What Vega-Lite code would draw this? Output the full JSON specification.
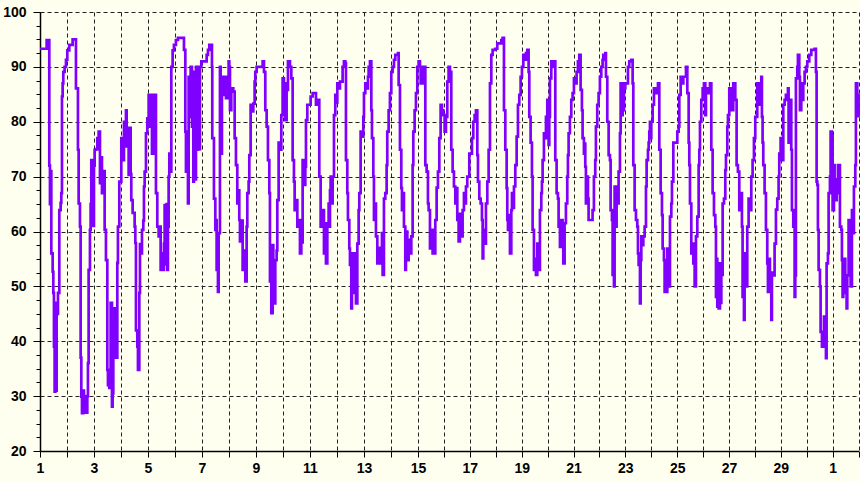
{
"$schema": "https://vega.github.io/schema/vega-lite/v6.json",
"width": 820, "height": 439,
"autosize": "none",
"padding": {"left": 40, "top": 12, "right": 0, "bottom": 31},
"background": "#FFFFF0",
"config": {"view": {"stroke": null}},
"data": {"values": [
{"d":0,"v":93.3},{"d":0.246,"v":94.9},{"d":0.344,"v":72},{"d":0.369,"v":65},{"d":0.394,"v":71},{"d":0.419,"v":56},{"d":0.468,"v":52.7},{"d":0.493,"v":48.8},{"d":0.517,"v":39},{"d":0.542,"v":30.8},{"d":0.567,"v":47},{"d":0.592,"v":31},{"d":0.616,"v":46},{"d":0.641,"v":45},{"d":0.666,"v":48.8},{"d":0.715,"v":63.9},{"d":0.764,"v":65.2},{"d":0.789,"v":67},{"d":0.814,"v":84.6},{"d":0.838,"v":87},{"d":0.863,"v":89.1},{"d":0.912,"v":90},{"d":0.962,"v":91.3},{"d":1.011,"v":93},{"d":1.085,"v":94},{"d":1.208,"v":95},{"d":1.332,"v":86.1},{"d":1.406,"v":74.9},{"d":1.431,"v":65.1},{"d":1.48,"v":60.9},{"d":1.505,"v":37},{"d":1.53,"v":29.9},{"d":1.555,"v":26.9},{"d":1.604,"v":31},{"d":1.628,"v":27},{"d":1.678,"v":30},{"d":1.703,"v":27},{"d":1.752,"v":30},{"d":1.776,"v":36},{"d":1.801,"v":53},{"d":1.85,"v":60.3},{"d":1.875,"v":65},{"d":1.9,"v":73},{"d":1.925,"v":62},{"d":1.949,"v":73},{"d":1.974,"v":61},{"d":1.999,"v":72},{"d":2.023,"v":74.9},{"d":2.073,"v":75},{"d":2.122,"v":77},{"d":2.172,"v":78.2},{"d":2.221,"v":68.8},{"d":2.246,"v":73.5},{"d":2.295,"v":67},{"d":2.32,"v":71},{"d":2.394,"v":60.3},{"d":2.443,"v":54.8},{"d":2.493,"v":34.8},{"d":2.517,"v":32},{"d":2.567,"v":31.5},{"d":2.616,"v":47},{"d":2.665,"v":28.1},{"d":2.69,"v":30.5},{"d":2.715,"v":40.2},{"d":2.764,"v":46},{"d":2.813,"v":37},{"d":2.863,"v":54.3},{"d":2.887,"v":60.9},{"d":2.937,"v":69.1},{"d":3.011,"v":77},{"d":3.06,"v":73},{"d":3.11,"v":80},{"d":3.134,"v":77.3},{"d":3.184,"v":82.1},{"d":3.209,"v":75.5},{"d":3.258,"v":78.9},{"d":3.283,"v":70.3},{"d":3.332,"v":78.9},{"d":3.357,"v":70.5},{"d":3.381,"v":65.7},{"d":3.431,"v":63.4},{"d":3.505,"v":60.9},{"d":3.53,"v":57.9},{"d":3.554,"v":42},{"d":3.604,"v":39},{"d":3.628,"v":34.8},{"d":3.678,"v":48.8},{"d":3.703,"v":57.7},{"d":3.727,"v":56},{"d":3.777,"v":60.3},{"d":3.826,"v":62},{"d":3.851,"v":68.2},{"d":3.876,"v":70.9},{"d":3.925,"v":77.9},{"d":3.974,"v":80.6},{"d":4.024,"v":84.9},{"d":4.073,"v":79.1},{"d":4.098,"v":84.9},{"d":4.147,"v":74.2},{"d":4.196,"v":82},{"d":4.246,"v":84.9},{"d":4.295,"v":67},{"d":4.344,"v":60.9},{"d":4.394,"v":59.1},{"d":4.443,"v":60.9},{"d":4.468,"v":53},{"d":4.517,"v":56},{"d":4.567,"v":53},{"d":4.591,"v":57.8},{"d":4.616,"v":64.8},{"d":4.665,"v":54},{"d":4.69,"v":65},{"d":4.715,"v":53},{"d":4.739,"v":60.9},{"d":4.764,"v":70},{"d":4.789,"v":74.2},{"d":4.838,"v":70.9},{"d":4.863,"v":90},{"d":4.912,"v":93},{"d":4.961,"v":94},{"d":5.035,"v":94.9},{"d":5.109,"v":95.3},
{"d":5.332,"v":93.1},{"d":5.382,"v":78.2},{"d":5.406,"v":70.9},{"d":5.431,"v":74.9},{"d":5.48,"v":65.1},{"d":5.505,"v":88.2},{"d":5.53,"v":80.9},{"d":5.579,"v":90},{"d":5.628,"v":79.1},{"d":5.678,"v":69.1},{"d":5.702,"v":89.1},{"d":5.752,"v":69.5},{"d":5.777,"v":90},{"d":5.826,"v":74.9},{"d":5.851,"v":90},{"d":5.9,"v":75},{"d":5.925,"v":90},{"d":5.974,"v":91},{"d":6.172,"v":92.2},{"d":6.221,"v":93.1},{"d":6.27,"v":94},{"d":6.369,"v":90},{"d":6.38,"v":77},{"d":6.443,"v":66},{"d":6.493,"v":60.3},{"d":6.517,"v":62.1},{"d":6.542,"v":53},{"d":6.591,"v":49},{"d":6.616,"v":59.7},{"d":6.665,"v":90},{"d":6.69,"v":74.2},{"d":6.739,"v":88.2},{"d":6.789,"v":87},{"d":6.813,"v":84.9},{"d":6.863,"v":88.2},{"d":6.888,"v":84.3},{"d":6.937,"v":86.5},{"d":6.986,"v":91},{"d":7.011,"v":90},{"d":7.036,"v":82.1},{"d":7.085,"v":86.1},{"d":7.159,"v":85.5},{"d":7.209,"v":77},{"d":7.258,"v":72.1},{"d":7.307,"v":65.1},{"d":7.332,"v":67.5},{"d":7.381,"v":62.1},{"d":7.406,"v":58.2},{"d":7.456,"v":62},{"d":7.505,"v":53},{"d":7.554,"v":56.5},{"d":7.604,"v":50.9},{"d":7.653,"v":60.9},{"d":7.678,"v":67},{"d":7.727,"v":69.1},{"d":7.752,"v":73.9},{"d":7.801,"v":83.1},{"d":7.851,"v":81.9},{"d":7.9,"v":83.3},{"d":7.949,"v":87.3},{"d":7.974,"v":89.1},{"d":8.023,"v":90},{"d":8.246,"v":91},{"d":8.295,"v":89.1},{"d":8.344,"v":82.1},{"d":8.394,"v":79.1},{"d":8.443,"v":73},{"d":8.493,"v":67},{"d":8.517,"v":50.9},{"d":8.542,"v":56},{"d":8.567,"v":45.1},{"d":8.616,"v":57.5},{"d":8.641,"v":48},{"d":8.69,"v":46.9},{"d":8.715,"v":54.8},{"d":8.764,"v":56.5},{"d":8.789,"v":65.7},{"d":8.838,"v":76.2},{"d":8.888,"v":74.9},{"d":8.937,"v":81.2},{"d":8.986,"v":87.9},{"d":9.036,"v":87},{"d":9.085,"v":80.3},{"d":9.134,"v":85.8},{"d":9.184,"v":91},{"d":9.258,"v":90},{"d":9.307,"v":87.9},{"d":9.357,"v":73},{"d":9.406,"v":69.1},{"d":9.431,"v":63.9},{"d":9.48,"v":65.7},{"d":9.53,"v":60.9},{"d":9.579,"v":62.1},{"d":9.628,"v":56},{"d":9.678,"v":58},{"d":9.727,"v":73},{"d":9.777,"v":68.5},{"d":9.826,"v":71.8},{"d":9.851,"v":80.3},{"d":9.9,"v":83.1},{"d":10.023,"v":84.6},{"d":10.098,"v":85.2},{"d":10.221,"v":83.1},{"d":10.295,"v":84},{"d":10.344,"v":70},{"d":10.394,"v":60.9},{"d":10.443,"v":62.5},{"d":10.468,"v":63.9},{"d":10.517,"v":56},{"d":10.567,"v":61.5},{"d":10.591,"v":54.2},{"d":10.641,"v":61},{"d":10.69,"v":65.1},
{"d":10.715,"v":60.9},{"d":10.74,"v":67.5},{"d":10.764,"v":70},{"d":10.814,"v":65.1},{"d":10.838,"v":70},{"d":10.888,"v":81.2},{"d":10.937,"v":84.9},{"d":10.986,"v":83.5},{"d":11.011,"v":87},{"d":11.06,"v":86.1},{"d":11.11,"v":87.3},{"d":11.208,"v":90},{"d":11.257,"v":91},{"d":11.307,"v":90.7},{"d":11.332,"v":73},{"d":11.381,"v":67},{"d":11.406,"v":62.1},{"d":11.455,"v":56.9},{"d":11.48,"v":53.9},{"d":11.529,"v":46},{"d":11.554,"v":56},{"d":11.604,"v":48.8},{"d":11.653,"v":56},{"d":11.702,"v":46.9},{"d":11.752,"v":57.8},{"d":11.801,"v":63.9},{"d":11.826,"v":67},{"d":11.875,"v":78.2},{"d":11.924,"v":77.3},{"d":11.974,"v":80.9},{"d":11.999,"v":85.2},{"d":12.048,"v":87},{"d":12.098,"v":86.1},{"d":12.147,"v":88.2},{"d":12.172,"v":90},{"d":12.221,"v":91},{"d":12.271,"v":82.1},{"d":12.295,"v":77},{"d":12.345,"v":70},{"d":12.369,"v":62.1},{"d":12.394,"v":65.1},{"d":12.443,"v":59.1},{"d":12.493,"v":54.2},{"d":12.542,"v":57},{"d":12.567,"v":54.2},{"d":12.616,"v":56},{"d":12.665,"v":59.7},{"d":12.69,"v":52.1},{"d":12.739,"v":66},{"d":12.788,"v":67},{"d":12.838,"v":72.1},{"d":12.862,"v":78.2},{"d":12.912,"v":82.1},{"d":12.961,"v":85.2},{"d":13.011,"v":89.1},{"d":13.06,"v":90},{"d":13.11,"v":91.3},{"d":13.159,"v":92.2},{"d":13.258,"v":92.5},{"d":13.283,"v":86.7},{"d":13.332,"v":74.9},{"d":13.381,"v":67.9},{"d":13.406,"v":63.9},{"d":13.431,"v":67},{"d":13.48,"v":60.9},{"d":13.529,"v":53},{"d":13.554,"v":60},{"d":13.604,"v":54.8},{"d":13.653,"v":58.5},{"d":13.702,"v":56},{"d":13.752,"v":59.1},{"d":13.801,"v":72.1},{"d":13.826,"v":78.2},{"d":13.875,"v":82.1},{"d":13.924,"v":85.2},{"d":13.974,"v":90},{"d":14.024,"v":91},{"d":14.076,"v":90},{"d":14.102,"v":87},{"d":14.153,"v":90},{"d":14.205,"v":87},{"d":14.256,"v":90},{"d":14.282,"v":72.1},{"d":14.333,"v":70.9},{"d":14.384,"v":65.1},{"d":14.41,"v":63.9},{"d":14.462,"v":56.9},{"d":14.513,"v":60.3},{"d":14.564,"v":56},{"d":14.616,"v":56},{"d":14.667,"v":62.1},{"d":14.719,"v":68},{"d":14.77,"v":70.9},{"d":14.822,"v":77},{"d":14.873,"v":83.1},{"d":14.924,"v":82.1},{"d":14.976,"v":81.2},{"d":15.027,"v":78.2},{"d":15.079,"v":80.9},{"d":15.13,"v":87.3},{"d":15.181,"v":90},{"d":15.233,"v":89.1},{"d":15.284,"v":74.9},{"d":15.336,"v":70.9},{"d":15.387,"v":68.2},{"d":15.439,"v":65.1},{"d":15.464,"v":67.9},{"d":15.516,"v":62.1},{"d":15.567,"v":58.2},{"d":15.619,"v":63.2},{"d":15.67,"v":59.1},{"d":15.721,"v":63.9},{"d":15.773,"v":67},{"d":15.824,"v":65.1},{"d":15.85,"v":68.2},{"d":15.901,"v":70},{"d":15.979,"v":74.2},{"d":16.082,"v":77},{"d":16.133,"v":80},{"d":16.185,"v":81.2},{"d":16.236,"v":82.1},{"d":16.288,"v":73.9},
{"d":16.314,"v":69.1},{"d":16.365,"v":66},{"d":16.417,"v":65.1},{"d":16.468,"v":62.1},{"d":16.494,"v":55.1},{"d":16.519,"v":60.3},{"d":16.571,"v":57.8},{"d":16.622,"v":65.1},{"d":16.674,"v":69.1},{"d":16.725,"v":74.9},{"d":16.777,"v":87},{"d":16.828,"v":92.2},{"d":16.879,"v":93.1},{"d":16.982,"v":93.3},{"d":17.059,"v":94.3},{"d":17.214,"v":94.9},{"d":17.265,"v":95.3},{"d":17.317,"v":82.1},{"d":17.368,"v":74.9},{"d":17.42,"v":67.9},{"d":17.445,"v":62.1},{"d":17.471,"v":60.3},{"d":17.497,"v":63},{"d":17.548,"v":56},{"d":17.6,"v":63.9},{"d":17.625,"v":67},{"d":17.677,"v":64.3},{"d":17.703,"v":68.2},{"d":17.754,"v":72.1},{"d":17.806,"v":77.3},{"d":17.857,"v":83.1},{"d":17.908,"v":84.9},{"d":17.96,"v":88.2},{"d":18.011,"v":90},{"d":18.063,"v":92.2},{"d":18.114,"v":91.3},{"d":18.165,"v":92.5},{"d":18.217,"v":93.1},{"d":18.268,"v":89.1},{"d":18.294,"v":80.9},{"d":18.345,"v":76.2},{"d":18.397,"v":70},{"d":18.422,"v":60.3},{"d":18.474,"v":53},{"d":18.525,"v":55},{"d":18.551,"v":52.1},{"d":18.602,"v":57.8},{"d":18.654,"v":53},{"d":18.705,"v":63.9},{"d":18.757,"v":67},{"d":18.782,"v":69.1},{"d":18.808,"v":73},{"d":18.859,"v":77.9},{"d":18.911,"v":77},{"d":18.937,"v":80.9},{"d":18.988,"v":84},{"d":19.014,"v":81.2},{"d":19.039,"v":75.8},{"d":19.065,"v":80.9},{"d":19.091,"v":87.9},{"d":19.142,"v":91},{"d":19.194,"v":90},{"d":19.245,"v":91},{"d":19.297,"v":73},{"d":19.348,"v":67},{"d":19.399,"v":66},{"d":19.425,"v":60.9},{"d":19.477,"v":57.2},{"d":19.528,"v":62.1},{"d":19.579,"v":59.1},{"d":19.605,"v":54.2},{"d":19.657,"v":61.5},{"d":19.708,"v":65.1},{"d":19.759,"v":70},{"d":19.785,"v":73.9},{"d":19.811,"v":77.9},{"d":19.862,"v":80.9},{"d":19.914,"v":84},{"d":19.965,"v":85.2},{"d":20.017,"v":87.9},{"d":20.068,"v":87},{"d":20.119,"v":89.1},{"d":20.171,"v":91},{"d":20.222,"v":92.2},{"d":20.274,"v":85.8},{"d":20.325,"v":82.1},{"d":20.351,"v":77},{"d":20.402,"v":74.2},{"d":20.428,"v":76},{"d":20.454,"v":71.8},{"d":20.479,"v":65.1},{"d":20.531,"v":70},{"d":20.557,"v":66},{"d":20.582,"v":62.1},{"d":20.736,"v":63.9},{"d":20.788,"v":70},{"d":20.839,"v":73},{"d":20.865,"v":79.1},{"d":20.916,"v":83.1},{"d":20.968,"v":85.2},{"d":21.019,"v":88.2},{"d":21.071,"v":90},{"d":21.122,"v":91.3},
{"d":21.149,"v":92.2},{"d":21.226,"v":92.5},{"d":21.252,"v":88.2},{"d":21.303,"v":80},{"d":21.355,"v":73.9},{"d":21.406,"v":73},{"d":21.432,"v":63.9},{"d":21.483,"v":62.1},{"d":21.509,"v":52.1},{"d":21.535,"v":62.1},{"d":21.56,"v":50},{"d":21.586,"v":68.2},{"d":21.638,"v":60.9},{"d":21.663,"v":66},{"d":21.715,"v":65.1},{"d":21.74,"v":70.9},{"d":21.792,"v":77.9},{"d":21.818,"v":87},{"d":21.843,"v":81.2},{"d":21.895,"v":87},{"d":21.92,"v":82.1},{"d":21.946,"v":86.1},{"d":21.998,"v":87},{"d":22.101,"v":90},{"d":22.152,"v":91},{"d":22.229,"v":91.3},{"d":22.281,"v":87},{"d":22.307,"v":72.1},{"d":22.358,"v":63.9},{"d":22.41,"v":62.1},{"d":22.461,"v":60.9},{"d":22.487,"v":56},{"d":22.513,"v":53.9},{"d":22.564,"v":46.9},{"d":22.59,"v":54.8},{"d":22.616,"v":59.1},{"d":22.641,"v":57.5},{"d":22.693,"v":59.1},{"d":22.744,"v":60.9},{"d":22.796,"v":68.2},{"d":22.821,"v":73},{"d":22.873,"v":74.9},{"d":22.899,"v":76.2},{"d":22.924,"v":78.2},{"d":22.95,"v":80},{"d":22.976,"v":77},{"d":23.001,"v":80},{"d":23.053,"v":83.1},{"d":23.104,"v":86.1},{"d":23.207,"v":85.2},{"d":23.259,"v":87},{"d":23.31,"v":74.9},{"d":23.362,"v":67},{"d":23.413,"v":63},{"d":23.439,"v":56.9},{"d":23.49,"v":54.8},{"d":23.516,"v":49},{"d":23.542,"v":54.2},{"d":23.568,"v":49},{"d":23.619,"v":56.9},{"d":23.671,"v":50},{"d":23.722,"v":62.7},{"d":23.774,"v":65.1},{"d":23.799,"v":69.1},{"d":23.851,"v":76.2},{"d":24.005,"v":78.2},{"d":24.057,"v":79.1},{"d":24.082,"v":84.9},{"d":24.134,"v":88.2},{"d":24.185,"v":87},{"d":24.237,"v":88.2},{"d":24.34,"v":90},{"d":24.391,"v":85.2},{"d":24.443,"v":76.2},{"d":24.468,"v":72.1},{"d":24.494,"v":65.1},{"d":24.545,"v":56},{"d":24.571,"v":57.2},{"d":24.622,"v":54.2},{"d":24.648,"v":57.8},{"d":24.674,"v":50},{"d":24.725,"v":59.1},{"d":24.777,"v":62.7},{"d":24.828,"v":72.1},{"d":24.854,"v":74.9},{"d":24.88,"v":80},{"d":24.931,"v":84},{"d":24.983,"v":86.1},{"d":25.034,"v":87},{"d":25.085,"v":81.2},{"d":25.111,"v":86.1},{"d":25.163,"v":85.2},{"d":25.214,"v":86.1},{"d":25.265,"v":87},{"d":25.317,"v":74.9},{"d":25.368,"v":67},{"d":25.42,"v":63},{"d":25.471,"v":60.9},{"d":25.497,"v":48.1},{"d":25.523,"v":55},{"d":25.548,"v":46.3},{"d":25.6,"v":46},{"d":25.651,"v":54.2},{"d":25.677,"v":47},{"d":25.703,"v":52.1},{"d":25.754,"v":65.1},{"d":25.806,"v":66},{"d":25.857,"v":71.2},{"d":25.883,"v":73.9},{"d":25.934,"v":79.1},{"d":25.96,"v":81.2},
{"d":26.01,"v":86.1},{"d":26.062,"v":85.8},{"d":26.113,"v":82.1},{"d":26.164,"v":87},{"d":26.242,"v":84},{"d":26.293,"v":72.1},{"d":26.344,"v":70.9},{"d":26.396,"v":63.9},{"d":26.447,"v":67},{"d":26.499,"v":60.9},{"d":26.524,"v":48.1},{"d":26.55,"v":52},{"d":26.576,"v":43.9},{"d":26.602,"v":56},{"d":26.653,"v":50},{"d":26.704,"v":60.9},{"d":26.756,"v":66},{"d":26.807,"v":63.9},{"d":26.859,"v":70},{"d":26.91,"v":73},{"d":26.962,"v":77},{"d":27.013,"v":80.9},{"d":27.09,"v":87},{"d":27.142,"v":83.1},{"d":27.193,"v":87},{"d":27.245,"v":88.2},{"d":27.27,"v":80.9},{"d":27.296,"v":76.2},{"d":27.322,"v":72.1},{"d":27.373,"v":67},{"d":27.425,"v":60.3},{"d":27.476,"v":54.2},{"d":27.502,"v":49},{"d":27.528,"v":55},{"d":27.579,"v":52},{"d":27.631,"v":43.9},{"d":27.656,"v":52.5},{"d":27.708,"v":52},{"d":27.759,"v":57.8},{"d":27.811,"v":64},{"d":27.862,"v":66},{"d":27.913,"v":70},{"d":27.939,"v":74.2},{"d":27.991,"v":77},{"d":28.042,"v":73},{"d":28.094,"v":83.1},{"d":28.145,"v":84},{"d":28.196,"v":84.9},{"d":28.274,"v":86.1},{"d":28.299,"v":76.2},{"d":28.351,"v":84},{"d":28.402,"v":74.9},{"d":28.428,"v":63.9},{"d":28.479,"v":60.9},{"d":28.531,"v":48.1},{"d":28.557,"v":52},{"d":28.582,"v":87.9},{"d":28.634,"v":90},{"d":28.659,"v":92.2},{"d":28.711,"v":88.2},{"d":28.737,"v":82.1},{"d":28.788,"v":87},{"d":28.839,"v":84},{"d":28.865,"v":87},{"d":28.917,"v":89.1},{"d":28.968,"v":90},{"d":29.02,"v":91},{"d":29.097,"v":92.2},{"d":29.174,"v":93.1},{"d":29.303,"v":93.3},{"d":29.354,"v":89.1},{"d":29.38,"v":69.1},{"d":29.406,"v":68.5},{"d":29.431,"v":60.3},{"d":29.457,"v":53},{"d":29.509,"v":50},{"d":29.534,"v":41.7},{"d":29.586,"v":39},{"d":29.637,"v":41.7},{"d":29.663,"v":44.5},{"d":29.714,"v":41.7},{"d":29.74,"v":36.9},{"d":29.766,"v":54.2},{"d":29.817,"v":56},{"d":29.843,"v":67},{"d":29.894,"v":70},{"d":29.92,"v":78.2},{"d":29.972,"v":77.3},{"d":29.997,"v":63.9},{"d":30.049,"v":72.1},{"d":30.074,"v":69.5},{"d":30.1,"v":65.7},{"d":30.152,"v":67},{"d":30.203,"v":72.1},{"d":30.28,"v":60.9},{"d":30.332,"v":60.3},{"d":30.357,"v":54.8},{"d":30.383,"v":48.1},{"d":30.409,"v":52},{"d":30.434,"v":55},{"d":30.486,"v":48.8},{"d":30.537,"v":46},{"d":30.563,"v":52},{"d":30.614,"v":62.1},{"d":30.666,"v":56},{"d":30.692,"v":50},{"d":30.743,"v":63.9},{"d":30.794,"v":59.7},{"d":30.82,"v":68.2},{"d":30.872,"v":72.1},{"d":30.897,"v":87},{"d":30.949,"v":81},{"d":31.0,"v":84.9},{"d":31.05,"v":84.9}
]},
"mark": {"type": "line", "interpolate": "step-after", "color": "#8000FF", "strokeWidth": 2.7, "clip": true},
"encoding": {
  "x": {"field": "d", "type": "quantitative",
    "scale": {"domain": [0, 14, 31], "range": [0, 378, 818.6], "nice": false, "zero": false},
    "axis": {"title": null, "values": [0,1,2,3,4,5,6,7,8,9,10,11,12,13,14,15,16,17,18,19,20,21,22,23,24,25,26,27,28,29,30,31],
      "grid": true, "gridDash": [4, 3], "gridColor": "#222222", "gridWidth": 1,
      "domainColor": "#000000", "domainWidth": 1.5, "tickColor": "#000000", "tickSize": 6, "tickWidth": 1,
      "labelExpr": "datum.value % 2 === 0 ? (datum.value < 30 ? '' + (datum.value + 1) : '' + (datum.value - 29)) : ''",
      "labelFont": "Liberation Sans", "labelFontWeight": "bold", "labelFontSize": 14, "labelColor": "#000000",
      "labelPadding": 4, "labelOverlap": false, "labelFlush": false}},
  "y": {"field": "v", "type": "quantitative",
    "scale": {"domain": [20, 100], "nice": false, "zero": false},
    "axis": {"title": null, "values": [20,22.5,25,27.5,30,32.5,35,37.5,40,42.5,45,47.5,50,52.5,55,57.5,60,62.5,65,67.5,70,72.5,75,77.5,80,82.5,85,87.5,90,92.5,95,97.5,100],
      "grid": true, "gridDash": [4, 3], "gridColor": "#222222", "gridWidth": 1,
      "gridOpacity": {"condition": {"test": "datum.value % 10 === 0", "value": 1}, "value": 0},
      "tickSize": {"condition": {"test": "datum.value % 10 === 0", "value": 7}, "value": 4},
      "domainColor": "#000000", "domainWidth": 1.5, "tickColor": "#000000", "tickWidth": 1,
      "labelExpr": "datum.value % 10 === 0 ? datum.label : ''",
      "labelFont": "Liberation Sans", "labelFontWeight": "bold", "labelFontSize": 14, "labelColor": "#000000",
      "labelPadding": 7, "labelOverlap": false, "labelFlush": false}}
}
}
